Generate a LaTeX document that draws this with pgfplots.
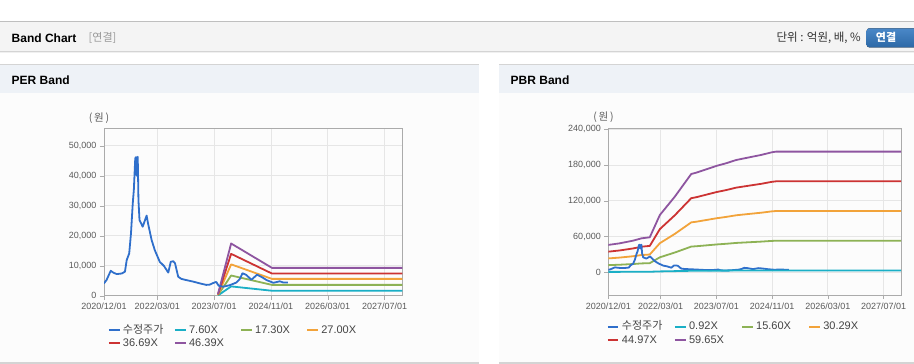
\documentclass[border=0pt]{standalone}
\usepackage{pgfplots}
\pgfplotsset{compat=1.18}
\usepackage{pgfplotstable}
\usepackage{fontspec}
\setmainfont{Liberation Sans}
\newfontfamily\kr{Noto Sans CJK KR}

\definecolor{priceC}{HTML}{2F6FCB}
\definecolor{cyanC}{HTML}{1AAFC6}
\definecolor{greenC}{HTML}{8DB255}
\definecolor{orangeC}{HTML}{F2A33A}
\definecolor{redC}{HTML}{CC3333}
\definecolor{purpleC}{HTML}{8E55A0}
\definecolor{hdrbg}{HTML}{F4F4F4}
\definecolor{phbg}{HTML}{EEF2F7}
\definecolor{pbody}{HTML}{FCFCFC}
\definecolor{pborder}{HTML}{D4D4D4}
\definecolor{axisgray}{HTML}{ABABAB}
\definecolor{gridgray}{HTML}{E6E6E6}
\definecolor{tickgray}{HTML}{5A5A5A}
\definecolor{legtext}{HTML}{444444}
\definecolor{btntop}{HTML}{4A88C8}
\definecolor{btnbot}{HTML}{2C68A6}

\pgfplotstableread{
m v
0 4100
0.7 5200
1.9 8300
2.6 7700
3.6 7200
5.0 7400
5.9 8000
6.4 11900
7.1 14100
7.6 20800
8.1 30800
8.4 35200
8.8 45800
9.0 46200
9.2 40000
9.5 46300
9.7 31900
10.0 25200
10.9 23000
12.0 26700
12.4 24100
13.4 18600
14.3 15200
15.7 11300
16.9 9900
18.1 7700
18.8 11300
19.5 11500
20.0 10800
20.9 6300
21.8 5600
23.2 5200
25.1 4700
27.0 4100
28.8 3600
29.8 3700
30.7 4200
31.6 4600
32.3 3300
33.6 3000
35.4 3500
37.3 4400
38.2 5500
39.0 7500
40.1 6900
41.5 5300
43.1 7000
44.3 6300
45.8 5200
47.7 4300
49.5 4800
50.5 4400
51.8 4400
}\pricetab

\pgfplotstableread{
m c g o r p
32.1 90 210 320 440 560
35.8 3100 6730 10450 13950 17400
47.3 1650 3600 5600 7380 9270
84 1650 3600 5600 7380 9270
}\pertab

\pgfplotstableread{
m c g o r p
0 708 12012 23323 34627 45930
3.3 751 12730 24717 36696 48674
7.1 819 13884 26958 40023 53089
9.5 879 14898 28927 42946 56966
11.9 906 15366 29836 44295 58755
14.8 1484 25163 48858 72537 96215
19.1 1960 33228 64518 95786 127055
23.8 2545 43150 83782 124387 164992
25.3 2581 43758 84963 126141 167318
27.6 2650 44928 87235 129514 171792
31.0 2754 46691 90658 134595 178532
33.8 2823 47861 92930 137968 183006
36.7 2907 49296 95716 142105 188494
40.5 2977 50482 98018 145523 193027
43.9 3039 51527 100048 148536 197024
46.9 3106 52666 102259 151819 201378
48.1 3123 52962 102835 152673 202512
84 3123 52962 102835 152673 202512
}\pbrtab

\pgfplotsset{
  bandchart/.style={
    scale only axis, anchor=south west,
    xmin=0, xmax=84,
    xtick={0,15,31,47,63,79},
    xticklabels={2020/12/01,2022/03/01,2023/07/01,2024/11/01,2026/03/01,2027/07/01},
    scaled y ticks=false,
    yticklabel style={/pgf/number format/fixed, /pgf/number format/1000 sep={,}},
    /pgf/number format/assume math mode=true,
    tick label style={font=\fontsize{9}{10}\selectfont, text=tickgray},
    axis line style={axisgray},
    tick style={axisgray},
    grid=major, major grid style={gridgray, line width=0.8pt},
    tick align=outside, major tick length=4pt,
    xtick pos=left, ytick pos=left,
    legend columns=4,
    legend image code/.code={\draw[##1, line width=2pt] (0pt,0pt) -- (10.6pt,0pt);},
    every axis plot/.append style={line width=1.8pt, line join=round},
  },
}

\begin{document}
\begin{tikzpicture}[x=1pt,y=1pt]
\path[use as bounding box] (0,0) rectangle (914,364);
\fill[white] (0,0) rectangle (914,364);
% top header bar
\fill[hdrbg] (0,342) rectangle (914,313);
\draw[pborder!90!black, line width=1pt] (0,342.3) -- (914,342.3);
\draw[pborder, line width=1pt] (0,312.6) -- (914,312.6);
\draw[gray!12, line width=1pt] (0,311.6) -- (914,311.6);
\node[anchor=west, inner sep=0pt, font=\bfseries\fontsize{12}{14}\selectfont] at (11.5,326) {Band Chart};
\node[anchor=west, inner sep=0pt, text=gray!80, font=\kr\fontsize{11}{13}\selectfont] at (88.5,326) {[연결]};
\node[anchor=east, inner sep=0pt, text=black!80, font=\kr\fontsize{11.5}{13}\selectfont] at (861,326) {단위 : 억원, 배, \%};
\fill[top color=btntop, bottom color=btnbot, rounded corners=2.5pt] (866.7,335.7) rectangle (918,316.7);
\node[text=white, inner sep=0pt, font=\kr\bfseries\fontsize{11}{13}\selectfont] at (886,326.2) {연결};
% panels
\foreach \xa/\xb in {0/479, 499/914}{
  \fill[pbody] (\xa,1.3) rectangle (\xb,271.3);
  \fill[phbg] (\xa,271.3) rectangle (\xb,299.6);
  \draw[pborder, line width=1pt] (\xa,299.6) -- (\xb,299.6);
  \draw[pborder, line width=1.2pt] (\xa,0.9) -- (\xb,0.9);
}
\node[anchor=west, inner sep=0pt, font=\bfseries\fontsize{12}{14}\selectfont] at (11.5,284) {PER Band};
\node[anchor=west, inner sep=0pt, font=\bfseries\fontsize{12}{14}\selectfont] at (510.5,284) {PBR Band};
\node[inner sep=0pt, text=tickgray, font=\kr\fontsize{10.5}{12}\selectfont] at (99,246) {(\,원\,)};
\node[inner sep=0pt, text=tickgray, font=\kr\fontsize{10.5}{12}\selectfont] at (603.5,247) {(\,원\,)};

% PER axis
\begin{axis}[bandchart,
  at={(104pt,68.3pt)}, width=298.3pt, height=167.4pt,
  ymin=0, ymax=55800, ytick={0,10000,...,50000},
  legend style={draw=none, fill=none, at={(0.0124,-0.1649)}, anchor=north west, inner sep=0pt,
    font=\fontsize{11}{13}\selectfont, text=legtext,
    /tikz/every even column/.append style={column sep=0pt},
    /tikz/every odd column/.append style={column sep=0pt},
    nodes={inner xsep=2.5pt, inner ysep=2pt, text width=48.5pt, align=left, text height=7.5pt, text depth=1.8pt}},
]
\addlegendimage{priceC}\addlegendentry{{\kr 수정주가}}
\addlegendimage{cyanC}\addlegendentry{7.60X}
\addlegendimage{greenC}\addlegendentry{17.30X}
\addlegendimage{orangeC}\addlegendentry{27.00X}
\addlegendimage{redC}\addlegendentry{36.69X}
\addlegendimage{purpleC}\addlegendentry{46.39X}
\addplot[cyanC, forget plot] table[x=m,y=c]{\pertab};
\addplot[greenC, forget plot] table[x=m,y=g]{\pertab};
\addplot[orangeC, forget plot] table[x=m,y=o]{\pertab};
\addplot[redC, forget plot] table[x=m,y=r]{\pertab};
\addplot[purpleC, forget plot] table[x=m,y=p]{\pertab};
\addplot[priceC, forget plot] table[x=m,y=v]{\pricetab};
\end{axis}

% PBR axis
\begin{axis}[bandchart,
  at={(608.3pt,69pt)}, width=292.7pt, height=166.7pt,
  ymin=-38100, ymax=241700, ytick={0,60000,...,240000},
  legend style={draw=none, fill=none, at={(-0.0055,-0.1500)}, anchor=north west, inner sep=0pt,
    font=\fontsize{11}{13}\selectfont, text=legtext,
    /tikz/every even column/.append style={column sep=0pt},
    /tikz/every odd column/.append style={column sep=0pt},
    nodes={inner xsep=2.5pt, inner ysep=2pt, text width=49.5pt, align=left, text height=7.5pt, text depth=1.8pt}},
]
\addlegendimage{priceC}\addlegendentry{{\kr 수정주가}}
\addlegendimage{cyanC}\addlegendentry{0.92X}
\addlegendimage{greenC}\addlegendentry{15.60X}
\addlegendimage{orangeC}\addlegendentry{30.29X}
\addlegendimage{redC}\addlegendentry{44.97X}
\addlegendimage{purpleC}\addlegendentry{59.65X}
\addplot[greenC, forget plot] table[x=m,y=g]{\pbrtab};
\addplot[orangeC, forget plot] table[x=m,y=o]{\pbrtab};
\addplot[redC, forget plot] table[x=m,y=r]{\pbrtab};
\addplot[purpleC, forget plot] table[x=m,y=p]{\pbrtab};
\addplot[priceC, forget plot] table[x=m,y=v]{\pricetab};
\addplot[cyanC, forget plot] table[x=m,y=c]{\pbrtab};
\end{axis}
\end{tikzpicture}
\end{document}
